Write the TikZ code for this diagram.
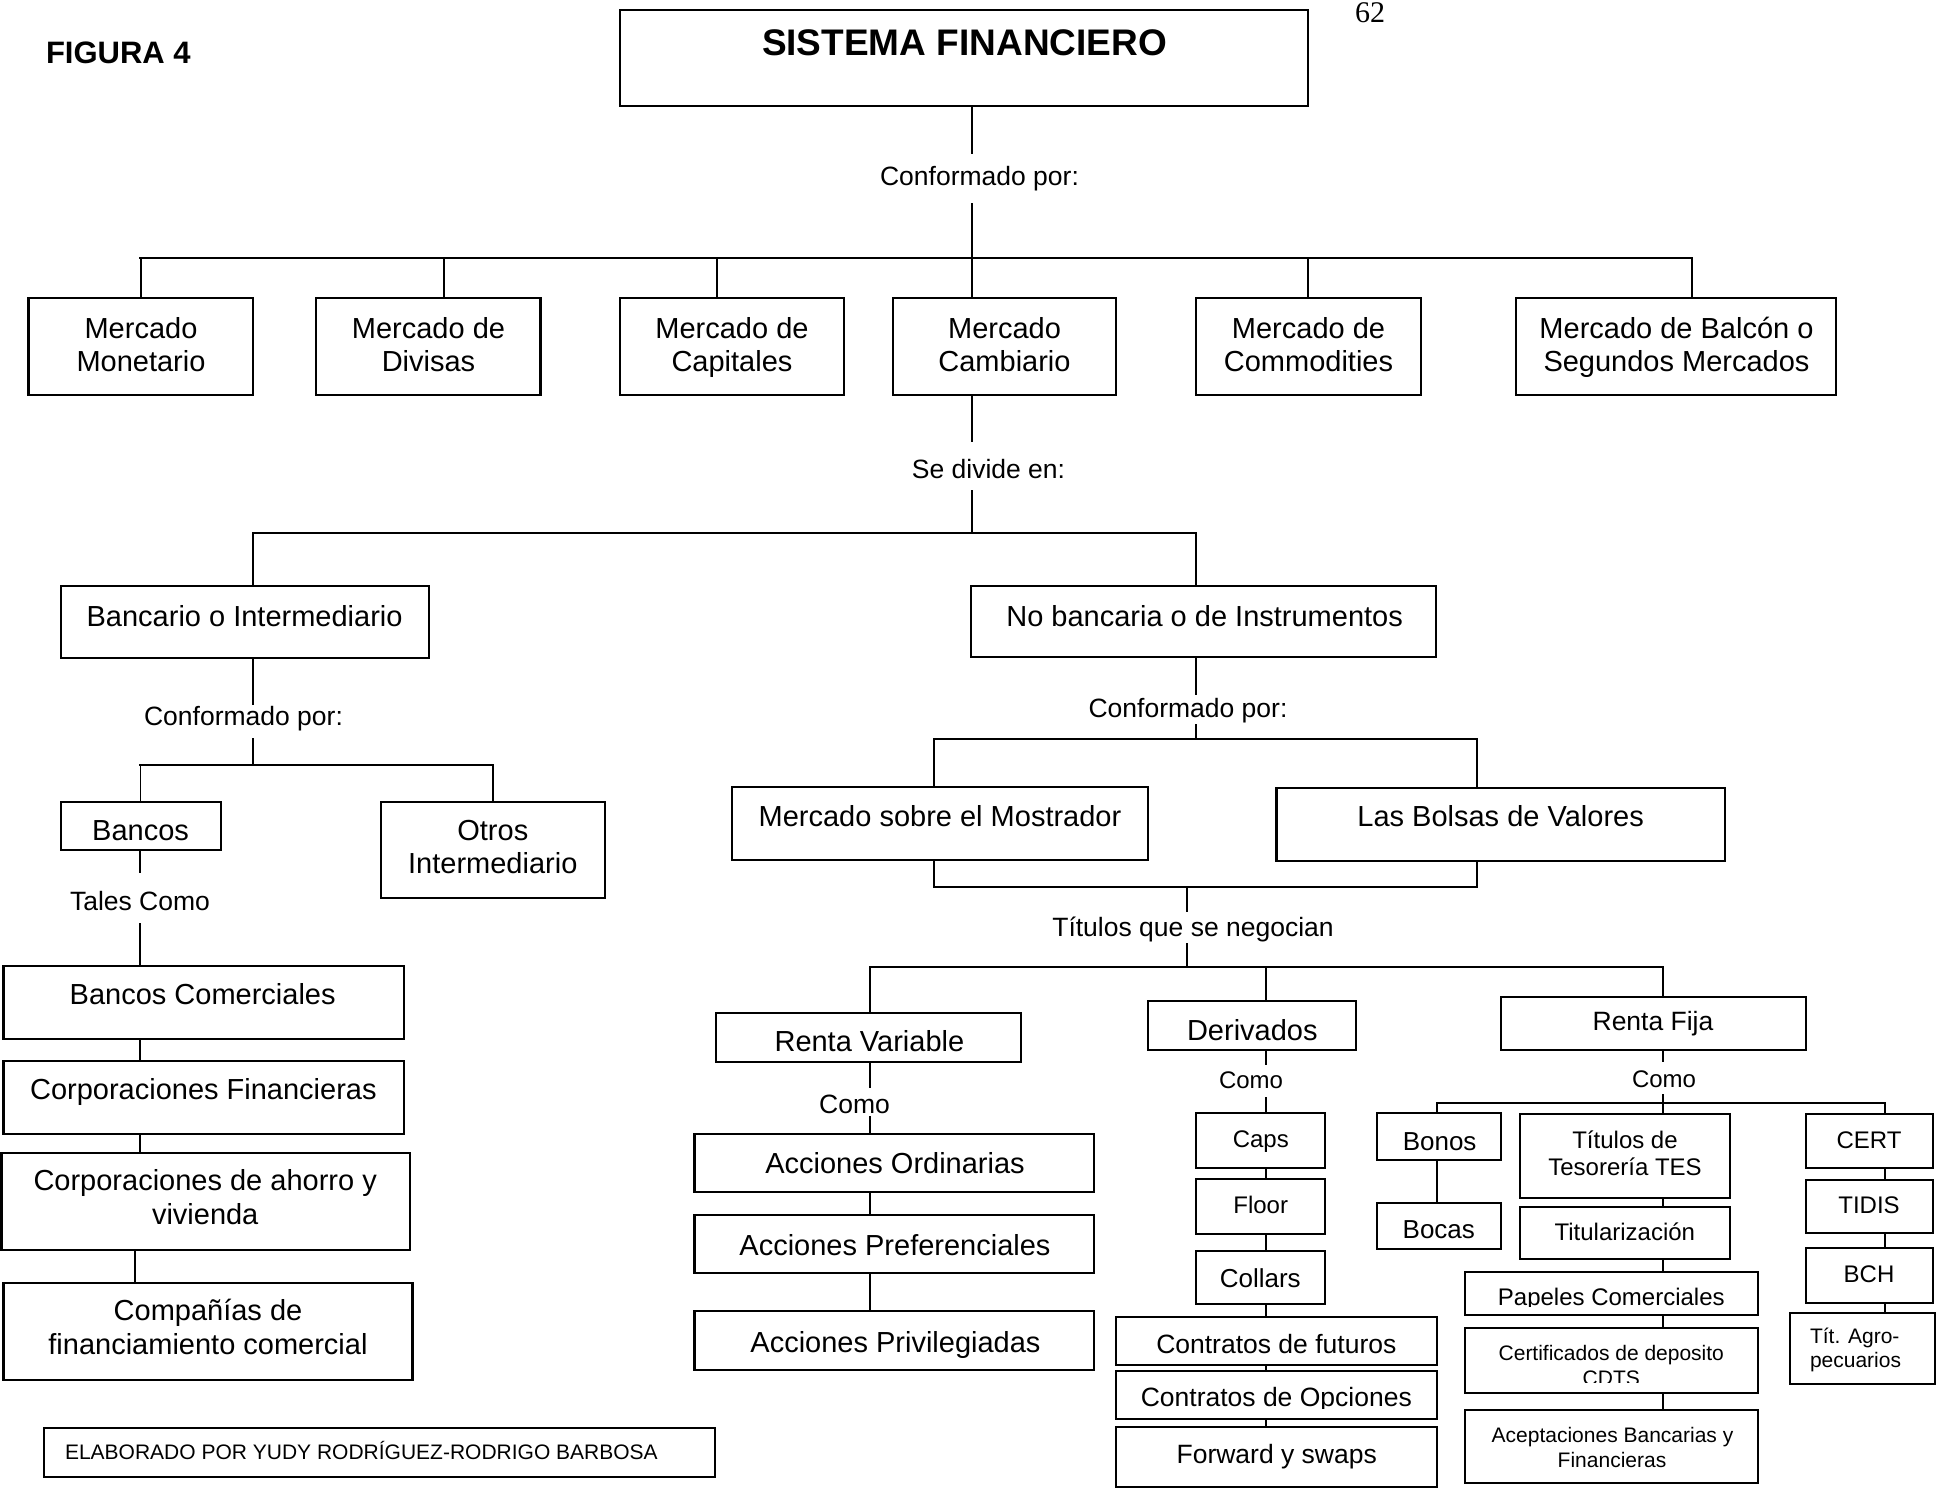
\documentclass[tikz,border=0pt]{standalone}
\usepackage{fontspec}
\setmainfont{Liberation Sans}
\newfontfamily\pagenumfont{Liberation Serif}

% boxes: name, x1, y1, x2, y2 (y grows downward)
\newcommand\bx[5]{\node[box, minimum width={(#4-#2)*1pt}, minimum height={(#5-#3)*1pt}] (#1) at ({(#2+#4)/2},{(#3+#5)/2}) {};}
% one line of text: name, x, baseline, style, text
\newcommand\tx[5]{\node[tx,#4] (#1) at (#2,#3) {#5};}
% label sitting in a gap of a connector: name, x, baseline, height above, depth below, style, text
\newcommand\lb[7]{\node[tx,#6, text height=#4pt, text depth=#5pt] (#1) at (#2,#3) {#7};}

\tikzset{
  box/.style={draw, line width=2.2pt, inner sep=0pt, outer sep=0pt},
  conn/.style={line width=1.5pt},
  bar/.style={line width=2.6pt, line cap=rect},
  tx/.style={inner sep=0pt, outer sep=0pt, anchor=base},
  fA/.style={font=\fontsize{29}{33}\selectfont},
  fL/.style={font=\fontsize{26.5}{30}\selectfont},
  fS/.style={font=\fontsize{24}{27}\selectfont},
  fX/.style={font=\fontsize{21}{24}\selectfont},
}

\begin{document}
\begin{tikzpicture}[x=1pt, y=-1pt]
\useasboundingbox (0,0) rectangle (1944,1494);
\fill[white] (0,0) rectangle (1944,1494);

% column positions of the connectors
\coordinate (sp) at (972,0);
\coordinate (k2) at (444,0);
\coordinate (k3) at (717,0);
\coordinate (k5) at (1308,0);
\coordinate (k6) at (1692,0);
\coordinate (k7) at (253,0);
\coordinate (k8) at (1196,0);
\coordinate (k9) at (140,0);
\coordinate (k10) at (135,0);
\coordinate (k11) at (934,0);
\coordinate (k12) at (1477,0);
\coordinate (k13) at (1187,0);
\coordinate (k14) at (870,0);
\coordinate (k15) at (1266,0);
\coordinate (k16) at (1663,0);
\coordinate (k17) at (1437,0);
\coordinate (k18) at (1885,0);
% rows of the horizontal bars
\coordinate (b1) at (0,258);
\coordinate (b2) at (0,533);
\coordinate (b3) at (0,765);
\coordinate (b4) at (0,739);
\coordinate (b5) at (0,887);
\coordinate (b6) at (0,967);
\coordinate (b7) at (0,1103);

% ---------- heading ----------
\node[tx, anchor=base west, font=\fontsize{31}{36}\selectfont\bfseries] (fig) at (46,63) {FIGURA 4};
\node[tx, font=\pagenumfont\fontsize{30}{34}\selectfont] (pnum) at (1370,22) {62};
\bx{title}{620}{10}{1308}{106}
\tx{titlet}{964.5}{55}{font=\fontsize{37}{42}\selectfont\bfseries}{SISTEMA FINANCIERO}

\lb{conf1}{979.5}{185}{31}{18}{fL}{Conformado por:}

% ---------- markets ----------
\bx{mm}{28.5}{298}{253}{395}
\tx{mm1}{141}{338}{fA}{Mercado}
\tx{mm2}{141}{371}{fA}{Monetario}
\bx{mdiv}{316}{298}{540.5}{395}
\tx{mdiv1}{428.5}{338}{fA}{Mercado de}
\tx{mdiv2}{428.5}{371}{fA}{Divisas}
\bx{mcap}{620}{298}{844}{395}
\tx{mcap1}{732}{338}{fA}{Mercado de}
\tx{mcap2}{732}{371}{fA}{Capitales}
\bx{mcam}{893}{298}{1116}{395}
\tx{mcam1}{1004.5}{338}{fA}{Mercado}
\tx{mcam2}{1004.5}{371}{fA}{Cambiario}
\bx{mcom}{1196}{298}{1421}{395}
\tx{mcom1}{1308.5}{338}{fA}{Mercado de}
\tx{mcom2}{1308.5}{371}{fA}{Commodities}
\bx{mbal}{1516}{298}{1836}{395}
\tx{mbal1}{1676.5}{338}{fA}{Mercado de Balcón o}
\tx{mbal2}{1676.5}{371}{fA}{Segundos Mercados}

\lb{sediv}{988.5}{478}{36}{12}{fL}{Se divide en:}

\bx{banc}{60.6}{586}{428.6}{658}
\tx{banct}{244.6}{626}{fA}{Bancario o Intermediario}
\bx{nob}{971}{586}{1436}{657}
\tx{nobt}{1204.6}{626}{fA}{No bancaria o de Instrumentos}

% ---------- banking branch ----------
\lb{conf2}{243.5}{725}{20}{13}{fL}{Conformado por:}
\bx{bancos}{60.6}{802}{220.7}{850}
\tx{bancost}{140.6}{840}{fA}{Bancos}
\bx{otros}{381}{802}{604.6}{898}
\tx{otros1}{492.8}{840}{fA}{Otros}
\tx{otros2}{492.8}{873}{fA}{Intermediario}
\lb{tales}{140}{910}{37}{13}{fL}{Tales Como}

\bx{bcom}{3.5}{966}{404}{1039}
\tx{bcomt}{202.7}{1004}{fA}{Bancos Comerciales}
\bx{cfin}{3.5}{1061}{404}{1134}
\tx{cfint}{203.4}{1099}{fA}{Corporaciones Financieras}
\bx{cahv}{1.4}{1153}{410}{1250}
\tx{cahv1}{205.2}{1190}{fA}{Corporaciones de ahorro y}
\tx{cahv2}{205.2}{1224}{fA}{vivienda}
\bx{ccom}{3.5}{1283}{412.5}{1380}
\tx{ccom1}{208}{1320}{fA}{Compañías de}
\tx{ccom2}{208}{1354}{fA}{financiamiento comercial}

\bx{elab}{44}{1428}{715}{1477}
\node[tx, anchor=base west, fX] (elabt) at (65,1459) {ELABORADO POR YUDY RODRÍGUEZ-RODRIGO BARBOSA};

% ---------- instruments branch ----------
\lb{conf3}{1188}{717}{22}{7}{fL}{Conformado por:}
\bx{mmos}{732}{787}{1148}{860}
\tx{mmost}{940}{826}{fA}{Mercado sobre el Mostrador}
\bx{bolsa}{1276.5}{788}{1725}{861}
\tx{bolsat}{1500.6}{826}{fA}{Las Bolsas de Valores}
\lb{titneg}{1193}{936}{24}{7}{fL}{Títulos que se negocian}

% variable income
\bx{rvar}{716}{1013}{1021}{1062}
\tx{rvart}{869.4}{1051}{fA}{Renta Variable}
\lb{como1}{854.5}{1113}{25}{3}{fL}{Como}
\bx{ao}{694.5}{1134}{1094}{1192}
\tx{aot}{895}{1173}{fA}{Acciones Ordinarias}
\bx{ap}{694.5}{1215}{1094}{1273}
\tx{apt}{895}{1255}{fA}{Acciones Preferenciales}
\bx{apr}{694.5}{1311}{1094}{1370}
\tx{aprt}{895.5}{1352}{fA}{Acciones Privilegiadas}

% derivatives
\bx{deriv}{1148}{1001}{1356}{1050}
\tx{derivt}{1252.3}{1040}{fA}{Derivados}
\lb{como2}{1251}{1088}{23}{9}{fS}{Como}
\bx{caps}{1196}{1113}{1325}{1168}
\tx{capst}{1260.8}{1147}{fS}{Caps}
\bx{floor}{1196}{1179}{1325}{1234}
\tx{floort}{1260.7}{1213}{fS}{Floor}
\bx{collars}{1196}{1251}{1325}{1304}
\tx{collarst}{1260.3}{1287}{font=\fontsize{26}{30}\selectfont}{Collars}
\bx{cfut}{1116}{1317}{1436.7}{1365}
\tx{cfutt}{1276.3}{1353}{fL}{Contratos de futuros}
\bx{copc}{1116}{1371}{1436.7}{1419}
\begin{scope}
  \clip (1116,1371) rectangle (1436.7,1408.5);
  \tx{copct}{1276.3}{1406}{fL}{Contratos de Opciones}
\end{scope}
\bx{fws}{1116}{1427}{1436.7}{1487}
\tx{fwst}{1276.7}{1463}{fL}{Forward y swaps}

% fixed income
\bx{rfij}{1500.6}{997}{1806}{1050}
\tx{rfijt}{1653}{1030}{fL}{Renta Fija}
\lb{como3}{1664}{1087}{25}{7}{fS}{Como}
\bx{bonos}{1377}{1113}{1501}{1160}
\tx{bonost}{1439.6}{1150}{font=\fontsize{26}{30}\selectfont}{Bonos}
\bx{bocas}{1377}{1203}{1501}{1249}
\tx{bocast}{1438.8}{1238}{font=\fontsize{26}{30}\selectfont}{Bocas}
\bx{tes}{1520}{1114}{1730}{1198}
\tx{tes1}{1625}{1148}{fS}{Títulos de}
\tx{tes2}{1625}{1175}{fS}{Tesorería TES}
\bx{titu}{1520}{1207}{1730}{1259}
\tx{titut}{1624.8}{1240}{fS}{Titularización}
\bx{pap}{1465}{1272}{1758}{1315}
\begin{scope}
  \clip (1465,1272) rectangle (1758,1306);
  \tx{papt}{1611.3}{1305}{fS}{Papeles Comerciales}
\end{scope}
\bx{cdts}{1465}{1328}{1758}{1393}
\tx{cdts1}{1611.3}{1360}{fX}{Certificados de deposito}
\begin{scope}
  \clip (1465,1328) rectangle (1758,1382);
  \tx{cdts2}{1611.3}{1385}{fX}{CDTS}
\end{scope}
\bx{acep}{1465}{1410}{1758}{1483}
\tx{acep1}{1612.5}{1442}{fX}{Aceptaciones Bancarias y}
\tx{acep2}{1612}{1467}{fX}{Financieras}

\bx{cert}{1805.6}{1114}{1933}{1168}
\tx{certt}{1869}{1148}{fS}{CERT}
\bx{tidis}{1805.6}{1180}{1933}{1233}
\tx{tidist}{1869}{1213}{fS}{TIDIS}
\bx{bch}{1805.6}{1248}{1933}{1303}
\tx{bcht}{1869}{1282}{fS}{BCH}
\bx{tagr}{1790}{1313}{1935}{1384}
\node[tx, anchor=base west, fX] (tagr1) at (1810,1343) {Tít. Agro-};
\node[tx, anchor=base west, fX] (tagr2) at (1810,1367) {pecuarios};

% ---------- connectors ----------
% top level
\draw[conn] (title.south -| sp) -- (conf1.north -| sp);
\draw[conn] (conf1.south -| sp) -- (sp |- b1);
\draw[bar] (mm.north |- b1) -- (k6 |- b1);
\draw[conn] (mm.north) -- (mm.north |- b1);
\draw[conn] (mdiv.north -| k2) -- (k2 |- b1);
\draw[conn] (mcap.north -| k3) -- (k3 |- b1);
\draw[conn] (mcam.north -| sp) -- (sp |- b1);
\draw[conn] (mcom.north -| k5) -- (k5 |- b1);
\draw[conn] (mbal.north -| k6) -- (k6 |- b1);

% division
\draw[conn] (mcam.south -| sp) -- (sediv.north -| sp);
\draw[conn] (sediv.south -| sp) -- (sp |- b2);
\draw[bar] (k7 |- b2) -- (k8 |- b2);
\draw[conn] (banc.north -| k7) -- (k7 |- b2);
\draw[conn] (nob.north -| k8) -- (k8 |- b2);

% banking branch
\draw[conn] (banc.south -| k7) -- (conf2.north -| k7);
\draw[conn] (conf2.south -| k7) -- (k7 |- b3);
\draw[bar] (bancos.north |- b3) -- (otros.north |- b3);
\draw[conn] (bancos.north) -- (bancos.north |- b3);
\draw[conn] (otros.north) -- (otros.north |- b3);
\draw[conn] (bancos.south -| k9) -- (tales.north -| k9);
\draw[conn] (tales.south -| k9) -- (bcom.north -| k9);
\draw[conn] (bcom.south -| k9) -- (cfin.north -| k9);
\draw[conn] (cfin.south -| k9) -- (cahv.north -| k9);
\draw[conn] (cahv.south -| k10) -- (ccom.north -| k10);

% instruments branch
\draw[conn] (nob.south -| k8) -- (conf3.north -| k8);
\draw[conn] (conf3.south -| k8) -- (k8 |- b4);
\draw[bar] (k11 |- b4) -- (k12 |- b4);
\draw[conn] (mmos.north -| k11) -- (k11 |- b4);
\draw[conn] (bolsa.north -| k12) -- (k12 |- b4);
\draw[conn] (mmos.south -| k11) -- (k11 |- b5);
\draw[conn] (bolsa.south -| k12) -- (k12 |- b5);
\draw[bar] (k11 |- b5) -- (k12 |- b5);
\draw[conn] (k13 |- b5) -- (titneg.north -| k13);
\draw[conn] (titneg.south -| k13) -- (k13 |- b6);
\draw[bar] (k14 |- b6) -- (k16 |- b6);
\draw[conn] (rvar.north -| k14) -- (k14 |- b6);
\draw[conn] (deriv.north -| k15) -- (k15 |- b6);
\draw[conn] (rfij.north -| k16) -- (k16 |- b6);

% variable income chain
\draw[conn] (rvar.south -| k14) -- (como1.north -| k14);
\draw[conn] (como1.south -| k14) -- (ao.north -| k14);
\draw[conn] (ao.south -| k14) -- (ap.north -| k14);
\draw[conn] (ap.south -| k14) -- (apr.north -| k14);

% derivatives chain
\draw[conn] (deriv.south -| k15) -- (como2.north -| k15);
\draw[conn] (como2.south -| k15) -- (caps.north -| k15);
\draw[conn] (caps.south -| k15) -- (floor.north -| k15);
\draw[conn] (floor.south -| k15) -- (collars.north -| k15);
\draw[conn] (collars.south -| k15) -- (cfut.north -| k15);
\draw[conn] (cfut.south -| k15) -- (copc.north -| k15);
\draw[conn] (copc.south -| k15) -- (fws.north -| k15);

% fixed income chains
\draw[conn] (rfij.south -| k16) -- (como3.north -| k16);
\draw[conn] (como3.south -| k16) -- (k16 |- b7);
\draw[bar] (k17 |- b7) -- (k18 |- b7);
\draw[conn] (bonos.north -| k17) -- (k17 |- b7);
\draw[conn] (k16 |- b7) -- (tes.north -| k16);
\draw[conn] (cert.north -| k18) -- (k18 |- b7);
\draw[conn] (bonos.south -| k17) -- (bocas.north -| k17);
\draw[conn] (tes.south -| k16) -- (titu.north -| k16);
\draw[conn] (titu.south -| k16) -- (pap.north -| k16);
\draw[conn] (pap.south -| k16) -- (cdts.north -| k16);
\draw[conn] (cdts.south -| k16) -- (acep.north -| k16);
\draw[conn] (cert.south -| k18) -- (tidis.north -| k18);
\draw[conn] (tidis.south -| k18) -- (bch.north -| k18);
\draw[conn] (bch.south -| k18) -- (tagr.north -| k18);
\end{tikzpicture}
\end{document}
